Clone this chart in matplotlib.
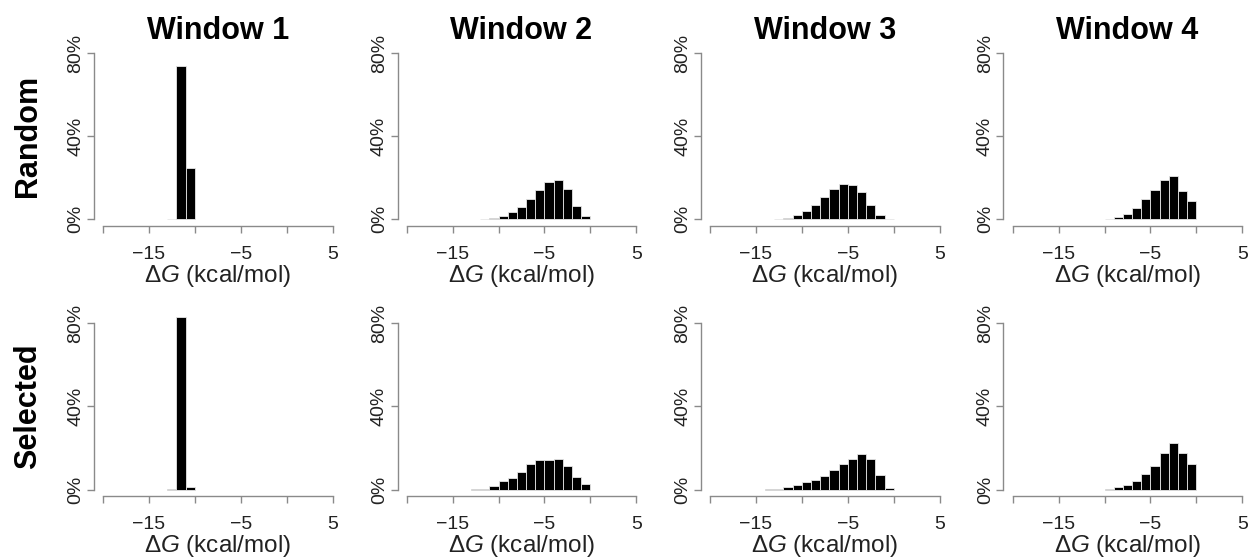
import numpy as np
import matplotlib
matplotlib.use('Agg')
import matplotlib.pyplot as plt

plt.rcParams['font.family'] = ['Liberation Sans', 'DejaVu Sans']
plt.rcParams['mathtext.fontset'] = 'custom'
plt.rcParams['mathtext.it'] = 'Liberation Sans:italic'
plt.rcParams['mathtext.rm'] = 'Liberation Sans'

# histogram bins (kcal/mol), 1 kcal/mol wide, given by left edge
# values are % of structures in each bin
rows = ['Random', 'Selected']
windows = ['Window 1', 'Window 2', 'Window 3', 'Window 4']

r1_edges = [-13, -12, -11]
r1_vals = [0.3, 73.6, 24.9]
r2_edges = list(range(-12, 0))
r2_vals = [0.3, 0.6, 1.8, 3.4, 5.8, 9.6, 14.0, 17.7, 19.0, 14.8, 6.6, 1.4]
r3_edges = list(range(-13, 0))
r3_vals = [0.2, 0.6, 1.9, 3.9, 6.9, 10.9, 14.6, 17.0, 16.4, 12.9, 6.9, 2.1, 0.2]
r4_edges = list(range(-10, 0))
r4_vals = [0.2, 1.0, 2.7, 5.3, 9.8, 14.3, 19.0, 20.6, 13.8, 8.8]

s1_edges = [-13, -12, -11]
s1_vals = [0.3, 83.2, 1.3]
s2_edges = list(range(-13, 0))
s2_vals = [0.2, 0.5, 1.9, 4.0, 5.8, 8.4, 12.2, 14.1, 14.1, 14.5, 11.1, 5.9, 2.7]
s3_edges = list(range(-14, 0))
s3_vals = [0.2, 0.5, 1.3, 2.2, 3.7, 4.5, 6.7, 9.2, 12.5, 14.9, 17.3, 14.5, 7.1, 0.6]
s4_edges = list(range(-10, 0))
s4_vals = [0.3, 1.3, 2.2, 4.2, 7.4, 11.2, 17.8, 22.5, 17.8, 12.5]

data = [[(r1_edges, r1_vals), (r2_edges, r2_vals), (r3_edges, r3_vals), (r4_edges, r4_vals)],
        [(s1_edges, s1_vals), (s2_edges, s2_vals), (s3_edges, s3_vals), (s4_edges, s4_vals)]]

xticks = [-20, -15, -10, -5, 0, 5]
xticklabels = ['', '\u221215', '', '\u22125', '', '5']
yticks = [0, 40, 80]
yticklabels = ['0%', '40%', '80%']

W, H = 1249, 559
fig = plt.figure(figsize=(W / 100, H / 100), dpi=100)

lefts = [93.8, 397.5, 700.8, 1003.5]
tops = [46.4, 316.7]
aw, ah = 248.0, 179.5
axis_grey = '#8a8a8a'

for i in range(2):
    for j in range(4):
        ax = fig.add_axes([lefts[j] / W, 1 - (tops[i] + ah) / H, aw / W, ah / H])
        edges, vals = data[i][j]
        ax.bar(edges, vals, width=1.0, align='edge', color='black',
               edgecolor='#e6e6e6', linewidth=0.6)
        ax.set_xlim(-21, 6)
        ax.set_ylim(-3.2, 83.2)
        for s in ['top', 'right']:
            ax.spines[s].set_visible(False)
        ax.spines['left'].set_bounds(0, 80)
        ax.spines['bottom'].set_bounds(-20, 5)
        for s in ['left', 'bottom']:
            ax.spines[s].set_color(axis_grey)
            ax.spines[s].set_linewidth(1.0)
        ax.set_xticks(xticks)
        ax.set_xticklabels(xticklabels)
        ax.set_yticks(yticks)
        ax.set_yticklabels(yticklabels, rotation=90, va='center')
        ax.tick_params(axis='both', colors=axis_grey, labelcolor='#222222',
                       labelsize=14, length=5, width=1.0)
        ax.tick_params(axis='x', pad=9.5)
        ax.tick_params(axis='y', pad=2)
        ax.set_xlabel('$\\mathit{\u0394G}$ (kcal/mol)', fontsize=17.5,
                      color='#222222', labelpad=0)
        if i == 0:
            ax.set_title(windows[j], fontsize=22, fontweight='bold', pad=3)
        if j == 0:
            ax.text(-0.265, 0.5, rows[i], transform=ax.transAxes, rotation=90,
                    ha='center', va='center', fontsize=22, fontweight='bold')

fig.savefig('out.png', dpi=100)
